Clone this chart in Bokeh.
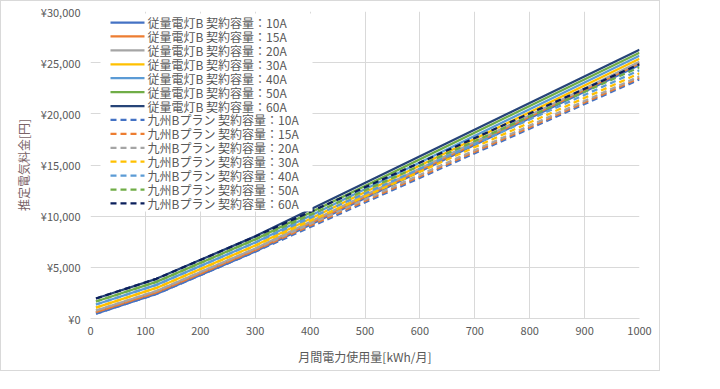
from bokeh.plotting import figure
from bokeh.embed import file_html
from bokeh.resources import INLINE
from bokeh.models import (CustomJSTickFormatter, FixedTicker, Range1d, BoxAnnotation,
                          Arrow, Label)

# usage [kWh/month]
usage = [10, 120, 300, 1000]

# 従量電灯B (solid)
juryo_10A = [472, 2392, 6543, 24785]
juryo_15A = [620, 2541, 6692, 24934]
juryo_20A = [769, 2689, 6840, 25082]
juryo_30A = [1066, 2986, 7137, 25379]
juryo_40A = [1363, 3283, 7434, 25676]
juryo_50A = [1660, 3580, 7731, 25973]
juryo_60A = [1957, 3877, 8028, 26270]

# 九州Bプラン (dashed)
kyushu_10A = [472, 2392, 6525, 23367]
kyushu_15A = [620, 2541, 6674, 23516]
kyushu_20A = [769, 2689, 6822, 23664]
kyushu_30A = [1066, 2986, 7119, 23961]
kyushu_40A = [1363, 3283, 7416, 24258]
kyushu_50A = [1660, 3580, 7713, 24555]
kyushu_60A = [1957, 3877, 8010, 24852]

capacities = ["10A", "15A", "20A", "30A", "40A", "50A", "60A"]
juryo_series = [juryo_10A, juryo_15A, juryo_20A, juryo_30A, juryo_40A, juryo_50A, juryo_60A]
kyushu_series = [kyushu_10A, kyushu_15A, kyushu_20A, kyushu_30A, kyushu_40A, kyushu_50A, kyushu_60A]

x_ticks = [0, 100, 200, 300, 400, 500, 600, 700, 800, 900, 1000]
y_ticks = [0, 5000, 10000, 15000, 20000, 25000, 30000]

solid_colors = ["#4472C4", "#ED7D31", "#A5A5A5", "#FFC000", "#5B9BD5", "#70AD47", "#264478"]
dash_colors = ["#4472C4", "#ED7D31", "#A5A5A5", "#FFC000", "#5B9BD5", "#70AD47", "#0B1F5C"]

FONT = "Noto Sans CJK JP"
TXT = "#595959"
GRID = "#D9D9D9"

FRAME_H = 307
p = figure(output_backend="svg", toolbar_location=None,
           width=660, height=371,
           min_border_left=89, min_border_top=10, min_border_right=22, min_border_bottom=54,
           x_range=Range1d(0, 1000), y_range=Range1d(0, 30000))
p.outline_line_color = None
p.border_fill_color = "white"
p.styles = {"border": "1px solid #D9D9D9"}

p.xaxis.ticker = FixedTicker(ticks=x_ticks)
p.yaxis.ticker = FixedTicker(ticks=y_ticks)
p.yaxis.formatter = CustomJSTickFormatter(code="return '¥' + tick.toLocaleString('en-US');")

for ax in (p.xaxis[0], p.yaxis[0]):
    ax.major_tick_line_color = None
    ax.minor_tick_line_color = None
    ax.major_tick_out = 0
    ax.major_tick_in = 0
    ax.minor_tick_out = 0
    ax.minor_tick_in = 0
    ax.major_label_text_font = FONT
    ax.major_label_text_font_size = "11px"
    ax.major_label_text_color = TXT
    ax.axis_label_text_font = FONT
    ax.axis_label_text_font_size = "12px"
    ax.axis_label_text_font_style = "normal"
p.yaxis.axis_line_color = None
p.xaxis.axis_line_color = GRID
p.yaxis.major_label_standoff = 10
p.xaxis.major_label_standoff = 8
p.xaxis.axis_label = "月間電力使用量[kWh/月]"
p.yaxis.axis_label = "推定電気料金[円]"
p.xaxis.axis_label_text_color = TXT
p.yaxis.axis_label_text_color = "#7A6468"
p.xaxis.axis_label_standoff = 10
p.yaxis.axis_label_standoff = 6

p.xgrid.grid_line_color = GRID
p.ygrid.grid_line_color = GRID

labels = []
colors = []
dashes = []
for cap, ys, c in zip(capacities, juryo_series, solid_colors):
    p.line(usage, ys, line_color=c, line_width=2.25)
    labels.append("従量電灯B 契約容量：" + cap)
    colors.append(c)
    dashes.append("solid")
for cap, ys, c in zip(capacities, kyushu_series, dash_colors):
    p.line(usage, ys, line_color=c, line_width=2.25, line_dash="6 4")
    labels.append("九州Bプラン 契約容量：" + cap)
    colors.append(c)
    dashes.append("6 4")

# hand-built legend (screen units relative to the plot frame, y from bottom)
ROW0 = FRAME_H - 11      # first row centre
ROW_STEP = 13.92
p.add_layout(BoxAnnotation(left=10, right=222, top=FRAME_H - 2, bottom=FRAME_H - 200,
                           left_units="screen", right_units="screen",
                           top_units="screen", bottom_units="screen",
                           fill_color="white", fill_alpha=1.0, line_color=None))
for i, (lab, c, d) in enumerate(zip(labels, colors, dashes)):
    yy = ROW0 - i * ROW_STEP
    p.add_layout(Arrow(x_start=20, y_start=yy, x_end=54, y_end=yy,
                       start_units="screen", end_units="screen",
                       start=None, end=None, line_color=c, line_width=2.25, line_dash=d))
    p.add_layout(Label(x=57, y=yy, x_units="screen", y_units="screen", text=lab,
                       text_font=FONT, text_font_size="12px", text_color=TXT,
                       text_baseline="middle", text_align="left"))

open("out.html", "w").write(file_html(p, INLINE))
